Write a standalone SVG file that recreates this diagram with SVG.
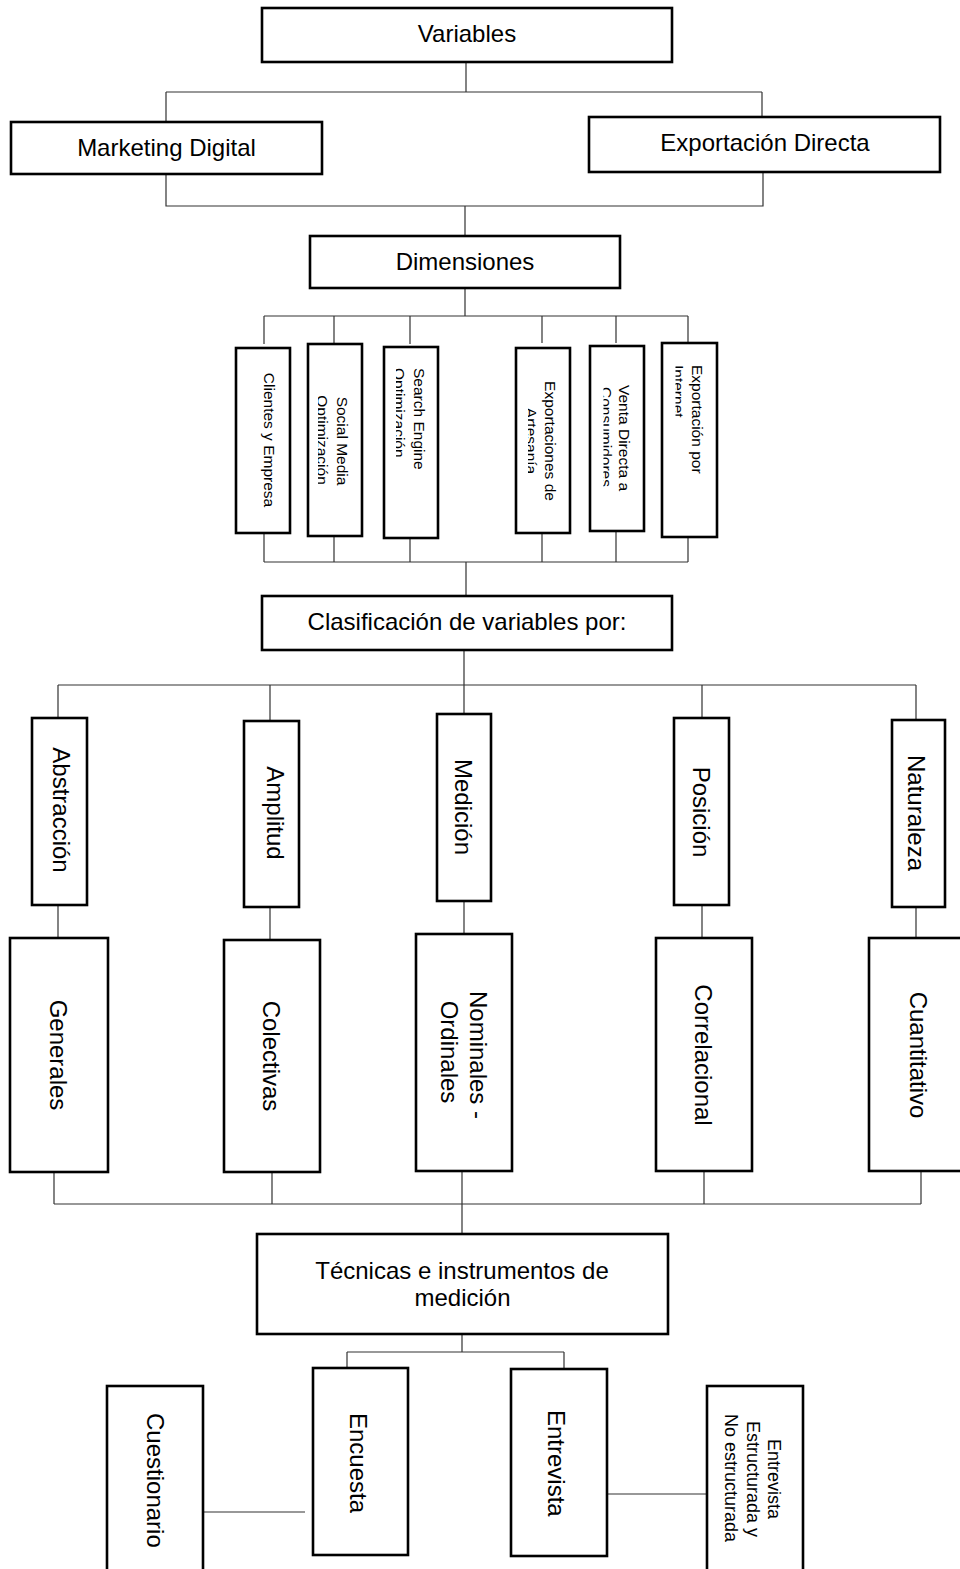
<svg xmlns="http://www.w3.org/2000/svg" width="960" height="1569" viewBox="0 0 960 1569">
<style>
.box{fill:#fff;stroke:#000;stroke-width:2.6}
.ln{fill:none;stroke:#333;stroke-width:1.2}
text{font-family:"Liberation Sans",Arial,Helvetica,sans-serif;fill:#000}
.t24{font-size:24px}
.t16{font-size:15.5px}
.t18{font-size:18px}
.m{text-anchor:middle}
</style>
<defs>
<clipPath id="cSM"><rect x="318" y="340" width="50" height="200"/></clipPath>
<clipPath id="cSE"><rect x="396" y="340" width="50" height="200"/></clipPath>
<clipPath id="cEA"><rect x="528" y="340" width="50" height="200"/></clipPath>
<clipPath id="cVD"><rect x="603.5" y="340" width="50" height="200"/></clipPath>
<clipPath id="cEI"><rect x="675.5" y="340" width="50" height="200"/></clipPath>
</defs>
<rect width="960" height="1569" fill="#fff"/>
<g id="connectors">
<path class="ln" d="M466 62V92M166 92H762M166 92V122M762 92V118"/>
<path class="ln" d="M166 174V206H763V172M465 206V236"/>
<path class="ln" d="M465 288V316M264 316H688M264 316V344M334 316V344M410 316V344M542 316V343M616 316V343M688 316V343"/>
<path class="ln" d="M264 533V562M334 536V562M410 538V562M542 533V562M616 531V562M688 537V562M264 562H688M466 562V596"/>
<path class="ln" d="M464 650V685M58 685H916M58 685V718M270 685V721M464 685V714M702 685V718M916 685V720"/>
<path class="ln" d="M58 905V938M270 907V940M464 901V934M702 905V938M916 907V938"/>
<path class="ln" d="M54 1172V1204M272 1172V1204M462 1171V1234M704 1171V1204M921 1171V1204M54 1204H921"/>
<path class="ln" d="M462 1334V1352M347 1352H564M347 1352V1369M564 1352V1369"/>
<path class="ln" d="M203 1512H305M603 1494H706"/>
</g>
<g id="variables"><rect class="box" x="262" y="8" width="410" height="54"/><text class="t24 m" x="467" y="42">Variables</text></g>
<g id="marketing-digital"><rect class="box" x="11" y="122" width="311" height="52"/><text class="t24 m" x="166.5" y="156">Marketing Digital</text></g>
<g id="exportacion-directa"><rect class="box" x="589" y="117" width="351" height="55"/><text class="t24 m" x="765" y="151">Exportación Directa</text></g>
<g id="dimensiones"><rect class="box" x="310" y="236" width="310" height="52"/><text class="t24 m" x="465" y="270">Dimensiones</text></g>
<g id="clientes-empresa"><rect class="box" x="236" y="348" width="54" height="185"/><text class="t16 m" transform="translate(264,440) rotate(90)">Clientes y Empresa</text></g>
<g id="social-media"><rect class="box" x="308" y="344" width="54" height="192"/><g clip-path="url(#cSM)"><text class="t16 m" transform="translate(337,441) rotate(90)">Social Media</text><text class="t16 m" transform="translate(317,440) rotate(90)">Optimización</text></g></g>
<g id="search-engine"><rect class="box" x="384" y="347" width="54" height="191"/><g clip-path="url(#cSE)"><text class="t16" transform="translate(414,368) rotate(90)">Search Engine</text><text class="t16" transform="translate(394,368) rotate(90)">Optimización</text></g></g>
<g id="exportaciones-artesania"><rect class="box" x="516" y="348" width="54" height="185"/><g clip-path="url(#cEA)"><text class="t16 m" transform="translate(545,441) rotate(90)">Exportaciones de</text><text class="t16 m" transform="translate(526,441) rotate(90)">Artesanía</text></g></g>
<g id="venta-directa"><rect class="box" x="590" y="346" width="54" height="185"/><g clip-path="url(#cVD)"><text class="t16 m" transform="translate(619,438) rotate(90)">Venta Directa a</text><text class="t16 m" transform="translate(601,437) rotate(90)">Consumidores</text></g></g>
<g id="exportacion-internet"><rect class="box" x="662" y="343" width="55" height="194"/><g clip-path="url(#cEI)"><text class="t16" transform="translate(692,365) rotate(90)">Exportación por</text><text class="t16" transform="translate(673,365) rotate(90)">Internet</text></g></g>
<g id="clasificacion"><rect class="box" x="262" y="596" width="410" height="54"/><text class="t24 m" x="467" y="630">Clasificación de variables por:</text></g>
<g id="abstraccion"><rect class="box" x="32" y="718" width="55" height="187"/><text class="t24 m" transform="translate(53,810) rotate(90)">Abstracción</text></g>
<g id="amplitud"><rect class="box" x="244" y="721" width="55" height="186"/><text class="t24 m" transform="translate(267,813) rotate(90)">Amplitud</text></g>
<g id="medicion"><rect class="box" x="437" y="714" width="54" height="187"/><text class="t24 m" transform="translate(455,807) rotate(90)">Medición</text></g>
<g id="posicion"><rect class="box" x="674" y="718" width="55" height="187"/><text class="t24 m" transform="translate(693,812) rotate(90)">Posición</text></g>
<g id="naturaleza"><rect class="box" x="892" y="720" width="53" height="187"/><text class="t24 m" transform="translate(908,813) rotate(90)">Naturaleza</text></g>
<g id="generales"><rect class="box" x="10" y="938" width="98" height="234"/><text class="t24 m" transform="translate(50,1055) rotate(90)">Generales</text></g>
<g id="colectivas"><rect class="box" x="224" y="940" width="96" height="232"/><text class="t24 m" transform="translate(263,1056) rotate(90)">Colectivas</text></g>
<g id="nominales"><rect class="box" x="416" y="934" width="96" height="237"/><text class="t24 m" transform="translate(470,1055) rotate(90)">Nominales -</text><text class="t24 m" transform="translate(441,1052) rotate(90)">Ordinales</text></g>
<g id="correlacional"><rect class="box" x="656" y="938" width="96" height="233"/><text class="t24 m" transform="translate(695,1055) rotate(90)">Correlacional</text></g>
<g id="cuantitativo"><rect class="box" x="869" y="938" width="100" height="233"/><text class="t24 m" transform="translate(910,1055) rotate(90)">Cuantitativo</text></g>
<g id="tecnicas"><rect class="box" x="257" y="1234" width="411" height="100"/><text class="t24 m" x="462" y="1279">Técnicas e instrumentos de</text><text class="t24 m" x="462.5" y="1306">medición</text></g>
<g id="cuestionario"><rect class="box" x="107" y="1386" width="96" height="200"/><text class="t24" transform="translate(147,1413) rotate(90)">Cuestionario</text></g>
<g id="encuesta"><rect class="box" x="313" y="1368" width="95" height="187"/><text class="t24" transform="translate(350,1413) rotate(90)">Encuesta</text></g>
<g id="entrevista"><rect class="box" x="511" y="1369" width="96" height="187"/><text class="t24" transform="translate(548,1410) rotate(90)">Entrevista</text></g>
<g id="tipos-entrevista"><rect class="box" x="707" y="1386" width="96" height="200"/><text class="t18 m" transform="translate(768,1479) rotate(90)">Entrevista</text><text class="t18 m" transform="translate(747,1479) rotate(90)">Estructurada y</text><text class="t18 m" transform="translate(725,1478) rotate(90)">No estructurada</text></g>
</svg>
